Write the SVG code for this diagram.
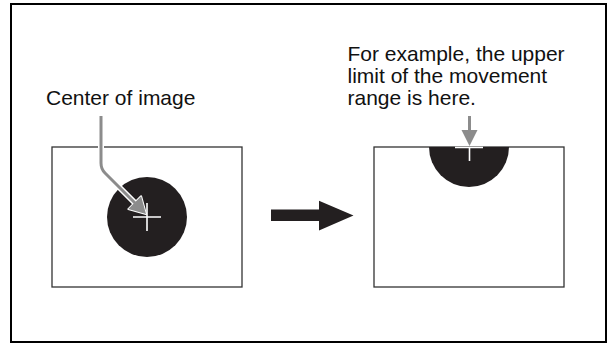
<svg xmlns="http://www.w3.org/2000/svg" width="609" height="345" viewBox="0 0 609 345">
  <style>
    .lbl { font-family: "Liberation Sans", Arial, sans-serif; font-size: 21px; fill: #111; }
    .frame { fill: #fff; stroke: #333; stroke-width: 1.3; }
    .cross { stroke: #fff; stroke-width: 1.6; fill: none; }
    .gshaft { stroke: #8c8c8c; stroke-width: 3; fill: none; }
    .ghead { fill: #8c8c8c; }
    .halo { stroke: #fff; fill: none; }
  </style>
  <rect x="0" y="0" width="609" height="345" fill="#fff"/>
  <rect id="border" x="11" y="4" width="595" height="338" fill="none" stroke="#000" stroke-width="2"/>

  <g id="before">
    <rect class="frame" x="52" y="147" width="190" height="140"/>
    <circle cx="147" cy="217" r="40" fill="#231f20"/>
    <path class="cross" d="M133,217 H161 M147,203 V231"/>
  </g>

  <g id="after">
    <rect class="frame" x="374" y="147" width="190" height="140"/>
    <path d="M429,147 A40,40 0 0,0 509,147 Z" fill="#231f20"/>
    <path class="cross" d="M455,147.5 H483 M469.5,147 V161"/>
  </g>

  <g id="label-center">
    <text class="lbl" x="46" y="105">Center of image</text>
  </g>

  <g id="label-limit">
    <text class="lbl" x="347.5" y="61">For example, the upper</text>
    <text class="lbl" x="347.5" y="83">limit of the movement</text>
    <text class="lbl" x="347.5" y="105">range is here.</text>
  </g>

  <g id="connectors">
    <g id="arrow-center">
      <path class="halo" stroke-width="6" d="M101,116 V163 Q101,169 105,173 L135,203"/>
      <polygon points="146,214 128.3,209.1 141.1,196.3" fill="#fff" stroke="#fff" stroke-width="2" stroke-linejoin="round"/>
      <path class="gshaft" d="M101,116 V163 Q101,169 105,173 L135,203"/>
      <polygon class="ghead" points="146,214 128.3,209.1 141.1,196.3"/>
    </g>
    <g id="arrow-limit">
      <path class="gshaft" d="M469.5,116 V131"/>
      <polygon class="ghead" points="461.5,130 477.5,130 469.5,146"/>
    </g>
    <polygon id="arrow-transition" points="271,209.5 319,209.5 319,200.7 353.5,215.5 319,230.5 319,221 271,221" fill="#231f20"/>
  </g>
</svg>
